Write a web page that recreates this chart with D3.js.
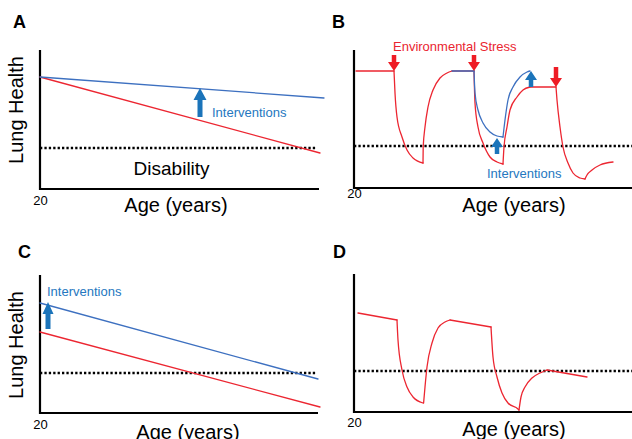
<!DOCTYPE html>
<html><head><meta charset="utf-8">
<script src="https://cdn.jsdelivr.net/npm/d3@7"></script>
<style>html,body{margin:0;padding:0;background:#fff}svg{display:block;font-family:"Liberation Sans",Arial,Helvetica,sans-serif}</style>
</head><body><svg id="c" width="632" height="439"></svg>
<script>
// ---------------- data (age in years, lung health in arbitrary units 0-70) ----------------
const panelLabels = ["A", "B", "C", "D"];
const xTicks = [20];
const xLabel = "Age (years)";
const yLabel = "Lung Health";

// Panel A
const aStress = [[20, 56], [90, 18]];
const aIntervention = [[20, 56], [91, 45.5]];
const aDisability = 20.5;
const aArrows = [{age: 60, from: 36, to: 50.5}];

// Panel B (segments of the curves)
const bStress = [
  [[20.5, 58.5], [30, 58.5]],
  [[30, 58.5], [30.25, 47.5], [30.75, 35.5], [32, 25.5], [33.25, 19], [34.75, 15], [37.25, 12.5]],
  [[37.25, 12.5], [37.3, 20.5], [37.75, 30.5], [38.5, 40.5], [39.75, 49], [41.5, 55], [43.25, 57.5], [44.5, 58.5]],
  [[44.5, 58.5], [50, 58.5]],
  [[50, 58.5], [50.25, 42.5], [51, 30.5], [52.25, 22.5], [54, 15.5], [55.75, 13], [57.25, 12]],
  [[57.25, 12], [57.5, 20.5], [58.25, 30.5], [59, 39], [60.75, 45.5], [62.25, 49], [64, 50.5]],
  [[64, 50.5], [70.5, 50.5]],
  [[70.5, 50.5], [70.75, 44], [71.5, 30.5], [72.25, 20.5], [73.5, 12.5], [74.75, 7.5], [76.5, 5], [77.75, 4.5]],
  [[77.75, 4.5], [78.25, 6.5], [79.5, 9], [81.5, 11.5], [84.75, 13]]
];
const bIntervention = [
  [[44.5, 58.5], [50, 58.5]],
  [[50, 58.5], [50.25, 47.5], [51, 39], [52.25, 32.5], [54, 28], [55.75, 26], [57.25, 25.5]],
  [[57.25, 25.5], [57.75, 34], [58.5, 44], [59.75, 50.5], [61.5, 55.5], [63.25, 58], [64, 58.5]]
];
const bDisability = 21;
const bStressArrows = [{age: 30, from: 66.5, to: 58.5}, {age: 50, from: 66.5, to: 58.5}, {age: 70.5, from: 60.5, to: 50.5}];
const bInterventionArrows = [{age: 64.25, from: 50.5, to: 58.5}, {age: 55.75, from: 17, to: 25}];

// Panel C
const cStress = [[20, 40.5], [90, 3]];
const cIntervention = [[20, 55], [89.5, 17]];
const cDisability = 20;
const cArrows = [{age: 22, from: 42, to: 55.5}];

// Panel D
const dStress = [
  [[21, 49.5], [30.75, 46]],
  [[30.75, 46], [31, 36], [32, 21], [33.25, 12.5], [34.75, 7.5], [37.25, 4.5]],
  [[37.4, 4.5], [37.75, 12.5], [38.25, 22.5], [39.5, 34.5], [41, 42], [42.75, 45], [44, 46]],
  [[44, 46], [54.25, 42.5]],
  [[54.25, 42.5], [54.75, 27.5], [55.75, 17.5], [57, 9.5], [58.5, 4.5], [61, 1.5], [61.25, 1]],
  [[61.25, 1], [61.75, 7.5], [62.75, 12.5], [64.5, 17], [66.5, 19.5], [68.25, 21]],
  [[68.25, 21], [78.25, 17.5]]
];
const dDisability = 20.5;

// ---------------- drawing ----------------
const RED = "#ec2631", BLUE_LINE = "#3d70c0", BLUE = "#1b74ba", BLUE_TEXT = "#2577c0", RED_TEXT = "#ea2530";
const svg = d3.select("#c");

const layout = {
  A: {left: 40, right: 319, bottom: 189, top: 50, dotEnd: 89.25, tickPad: 7, lab: [13, 28], yl: [23, 110], xl: [176, 212]},
  B: {left: 354, right: 632, bottom: 188, top: 50, dotEnd: 90, tickPad: 0.5, lab: [332, 28], yl: null, xl: [514, 212]},
  C: {left: 40, right: 318, bottom: 413, top: 275, dotEnd: 89.25, tickPad: 7, lab: [18, 258], yl: [23, 345], xl: [188, 438.5]},
  D: {left: 354, right: 632, bottom: 412, top: 274, dotEnd: 90, tickPad: 6, lab: [333, 258], yl: null, xl: [514, 436]}
};

function makeScales(L) {
  return {
    x: d3.scaleLinear().domain([20, 90]).range([L.left, L.left + 280]),
    y: d3.scaleLinear().domain([0, 70]).range([L.bottom, L.bottom - 140])
  };
}

function drawSegments(g, s, segs, color, w) {
  const line = d3.line().x(d => s.x(d[0])).y(d => s.y(d[1])).curve(d3.curveMonotoneX);
  g.selectAll(null).data(segs).enter().append("path")
    .attr("d", line).attr("fill", "none").attr("stroke", color)
    .attr("stroke-width", w).attr("stroke-linecap", "round").attr("stroke-linejoin", "round");
}

function drawArrows(g, s, arr, color, hl, hw, sw) {
  g.selectAll(null).data(arr).enter().append("path")
    .attr("d", d => {
      const px = s.x(d.age), p0 = s.y(d.from), p1 = s.y(d.to);
      const dir = Math.sign(p1 - p0);
      const hb = p1 - dir * hl;
      return `M${px - sw / 2},${p0}L${px + sw / 2},${p0}L${px + sw / 2},${hb}L${px + hw / 2},${hb}L${px},${p1}L${px - hw / 2},${hb}L${px - sw / 2},${hb}Z`;
    })
    .attr("fill", color);
}

function drawPanel(key, idx) {
  const L = layout[key], s = makeScales(L);
  const g = svg.append("g");
  // disability threshold
  const thr = {A: aDisability, B: bDisability, C: cDisability, D: dDisability}[key];
  g.append("line")
    .attr("x1", s.x(20)).attr("x2", s.x(L.dotEnd))
    .attr("y1", s.y(thr)).attr("y2", s.y(thr))
    .attr("stroke", "#000").attr("stroke-width", 2.4).attr("stroke-dasharray", "2.3,2.1");
  // axes frame
  g.append("path")
    .attr("d", `M${L.left},${L.top}V${L.bottom}H${L.right}`)
    .attr("fill", "none").attr("stroke", "#000").attr("stroke-width", 2.2);
  // tick label via d3 axis
  const ax = g.append("g").attr("transform", `translate(0,${L.bottom})`)
    .call(d3.axisBottom(s.x).tickValues(xTicks).tickSize(0).tickPadding(L.tickPad));
  ax.select(".domain").remove();
  ax.selectAll("text").attr("font-size", 13).attr("font-family", "Liberation Sans, Arial, sans-serif").attr("fill", "#000");
  // labels
  g.append("text").attr("x", L.lab[0]).attr("y", L.lab[1]).attr("font-size", 18).attr("font-weight", "bold").text(panelLabels[idx]);
  g.append("text").attr("x", L.xl[0]).attr("y", L.xl[1]).attr("text-anchor", "middle").attr("font-size", 20).text(xLabel);
  if (L.yl) {
    g.append("text").attr("transform", `translate(${L.yl[0]},${L.yl[1]}) rotate(-90)`)
      .attr("text-anchor", "middle").attr("font-size", 20).text(yLabel);
  }
  return {g, s};
}

// Panel A
{
  const {g, s} = drawPanel("A", 0);
  drawSegments(g, s, [aStress], RED, 1.3);
  drawSegments(g, s, [aIntervention], BLUE_LINE, 1.3);
  drawArrows(g, s, aArrows, BLUE, 12, 13, 5);
  g.append("text").attr("x", s.x(63)).attr("y", s.y(36)).attr("font-size", 13).attr("fill", BLUE_TEXT).text("Interventions");
  g.append("text").attr("x", s.x(52.9)).attr("y", s.y(7)).attr("text-anchor", "middle").attr("font-size", 19).text("Disability");
}
// Panel B
{
  const {g, s} = drawPanel("B", 1);
  drawSegments(g, s, bStress, RED, 1.3);
  drawSegments(g, s, bIntervention, BLUE_LINE, 1.3);
  drawArrows(g, s, bStressArrows, "#ee1c25", 9, 12, 4.5);
  drawArrows(g, s, bInterventionArrows, BLUE, 9, 12, 4.5);
  g.append("text").attr("x", s.x(29.75)).attr("y", s.y(68.5)).attr("font-size", 13).attr("fill", RED_TEXT).text("Environmental Stress");
  g.append("text").attr("x", s.x(53.25)).attr("y", s.y(5)).attr("font-size", 13).attr("fill", BLUE_TEXT).text("Interventions");
}
// Panel C
{
  const {g, s} = drawPanel("C", 2);
  drawSegments(g, s, [cStress], RED, 1.3);
  drawSegments(g, s, [cIntervention], BLUE_LINE, 1.3);
  drawArrows(g, s, cArrows, BLUE, 12, 11, 5);
  g.append("text").attr("x", s.x(21.75)).attr("y", s.y(58.5)).attr("font-size", 13).attr("fill", BLUE_TEXT).text("Interventions");
}
// Panel D
{
  const {g, s} = drawPanel("D", 3);
  drawSegments(g, s, dStress, RED, 1.3);
}
</script></body></html>
